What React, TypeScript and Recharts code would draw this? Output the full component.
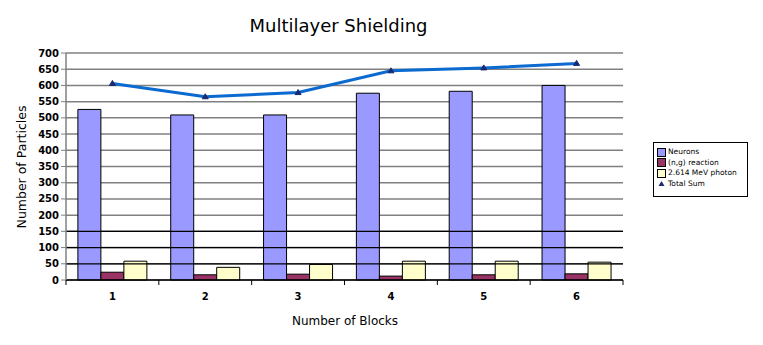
import React from "react";
import {
  ComposedChart,
  Bar,
  Line,
  XAxis,
  YAxis,
  CartesianGrid,
  ReferenceLine,
} from "recharts";

const blocks = ["1", "2", "3", "4", "5", "6"];
const neutrons = [526, 509, 509, 576, 582, 600];
const reaction = [24, 16, 18, 12, 16, 19];
const photon = [58, 39, 48, 58, 58, 55];
const totalSum = [606, 565, 578, 645, 654, 668];
const yTicks = [0, 50, 100, 150, 200, 250, 300, 350, 400, 450, 500, 550, 600, 650, 700];
const darkGridValues = [50, 100, 150];
const legendLabels = ["Neurons", "(n,g) reaction", "2.614 MeV photon", "Total Sum"];

const data = blocks.map((b, i) => ({
  block: b,
  neutrons: neutrons[i],
  reaction: reaction[i],
  photon: photon[i],
  total: totalSum[i],
}));

const FONT = "'DejaVu Sans', Verdana, sans-serif";
const COLORS = ["#9999FF", "#993366", "#FFFFCC", "#1a2a70"];

const XTick = (props: any) => {
  const { x, y, payload, index } = props;
  const off = payload.offset || 0;
  const last = index === blocks.length - 1;
  return (
    <g>
      <line x1={x - off} x2={x - off} y1={y - 8} y2={y - 3} stroke="#000" strokeWidth={1} />
      {last && <line x1={x + off} x2={x + off} y1={y - 8} y2={y - 3} stroke="#000" strokeWidth={1} />}
      <text x={x} y={y + 12} textAnchor="middle" fontSize={10} fontWeight="bold" fontFamily={FONT} fill="#000">
        {payload.value}
      </text>
    </g>
  );
};

const TriDot = (props: any) => {
  const { cx, cy } = props;
  if (cx == null || cy == null) return null;
  return <path d={`M${cx},${cy - 3} L${cx + 3},${cy + 2} L${cx - 3},${cy + 2} Z`} fill="#1a2a70" stroke="#1a2a70" />;
};

const LegendBox = () => (
  <div
    style={{
      position: "absolute",
      left: 653,
      top: 142,
      width: 95,
      height: 55,
      border: "1px solid #000",
      background: "#fff",
      fontFamily: FONT,
      fontSize: 7.5,
      lineHeight: "10.5px",
      padding: "4px 0 0 3px",
      boxSizing: "border-box",
      color: "#000",
    }}
  >
    {legendLabels.map((label, i) => (
      <div key={label} style={{ display: "flex", alignItems: "center", height: 10.5, whiteSpace: "nowrap" }}>
        {i < 3 ? (
          <span
            style={{
              display: "inline-block",
              width: 7,
              height: 7,
              background: COLORS[i],
              border: "1px solid #000",
              marginRight: 2,
            }}
          />
        ) : (
          <svg width={9} height={9} style={{ marginRight: 2 }}>
            <path d="M4.5,2 L7.5,7 L1.5,7 Z" fill={COLORS[i]} />
          </svg>
        )}
        <span>{label}</span>
      </div>
    ))}
  </div>
);

export default function App() {
  return (
    <div style={{ position: "absolute", left: 0, top: 0, width: 763, height: 345, background: "#fff" }}>
      <div
        style={{
          position: "absolute",
          left: 0,
          width: 677,
          top: 15,
          textAlign: "center",
          fontFamily: FONT,
          fontSize: 18,
          color: "#000",
        }}
      >
        Multilayer Shielding
      </div>
      <div
        style={{
          position: "absolute",
          left: 245,
          width: 200,
          top: 314,
          textAlign: "center",
          fontFamily: FONT,
          fontSize: 12,
          color: "#000",
        }}
      >
        Number of Blocks
      </div>
      <div
        style={{
          position: "absolute",
          left: 21,
          top: 167,
          transform: "translate(-50%, -50%) rotate(-90deg)",
          fontFamily: FONT,
          fontSize: 12.5,
          whiteSpace: "nowrap",
          color: "#000",
        }}
      >
        Number of Particles
      </div>
      <ComposedChart
        width={763}
        height={345}
        data={data}
        margin={{ top: 53, right: 140, bottom: 35, left: 36 }}
        barCategoryGap="12.8%"
        barGap={0}
        style={{ position: "absolute", left: 0, top: 0 }}
      >
        <CartesianGrid vertical={false} stroke="#808080" strokeWidth={1.5} horizontalValues={yTicks} />
        {darkGridValues.map((v) => (
          <ReferenceLine key={v} y={v} stroke="#000" strokeWidth={1.2} />
        ))}
        <XAxis
          dataKey="block"
          height={30}
          tickLine={false}
          axisLine={{ stroke: "#000", strokeWidth: 1.5 }}
          tick={<XTick />}
          interval={0}
        />
        <YAxis
          width={30}
          domain={[0, 700]}
          ticks={yTicks}
          interval={0}
          axisLine={{ stroke: "#808080", strokeWidth: 1.5 }}
          tickLine={{ stroke: "#808080" }}
          tickSize={5}
          tick={{ fontSize: 10, fontWeight: "bold", fontFamily: FONT, fill: "#000" }}
        />
        <Bar dataKey="neutrons" name={legendLabels[0]} fill={COLORS[0]} stroke="#000" strokeWidth={1} isAnimationActive={false} />
        <Bar dataKey="reaction" name={legendLabels[1]} fill={COLORS[1]} stroke="#000" strokeWidth={1} isAnimationActive={false} />
        <Bar dataKey="photon" name={legendLabels[2]} fill={COLORS[2]} stroke="#000" strokeWidth={1} isAnimationActive={false} />
        <Line
          dataKey="total"
          name={legendLabels[3]}
          stroke="#0a6ad0"
          strokeWidth={3}
          type="linear"
          dot={<TriDot />}
          activeDot={false}
          isAnimationActive={false}
        />
      </ComposedChart>
      <LegendBox />
    </div>
  );
}
